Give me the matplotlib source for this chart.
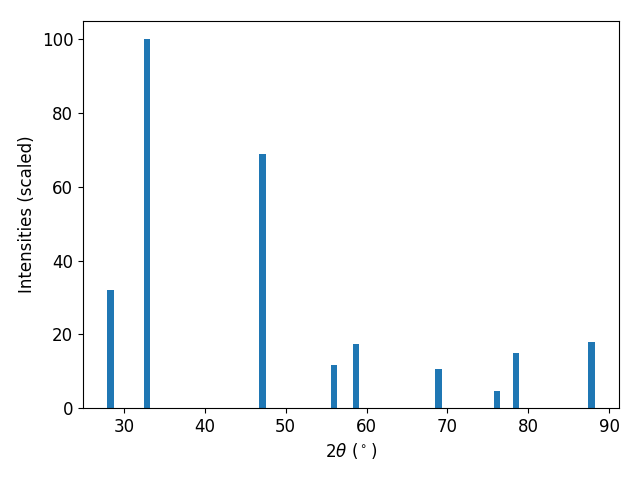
import matplotlib
matplotlib.use("Agg")
import matplotlib.pyplot as plt

# peak positions (2theta, degrees) and scaled intensities
two_theta = [28.35, 32.85, 47.15, 56.0, 58.7, 68.9, 76.1, 78.5, 87.8]
intensity = [32.1, 100.0, 69.0, 11.8, 17.5, 10.7, 4.7, 15.0, 17.8]

plt.rcParams['font.size'] = 12

fig, ax = plt.subplots(figsize=(6.4, 4.8), dpi=100)
ax.bar(two_theta, intensity, width=0.8)
ax.set_xlabel(r'$2\theta$ ($^\circ$)')
ax.set_ylabel('Intensities (scaled)')
fig.subplots_adjust(left=83/640, right=619/640, top=1-21/480, bottom=1-408/480)
fig.savefig('out.png')
